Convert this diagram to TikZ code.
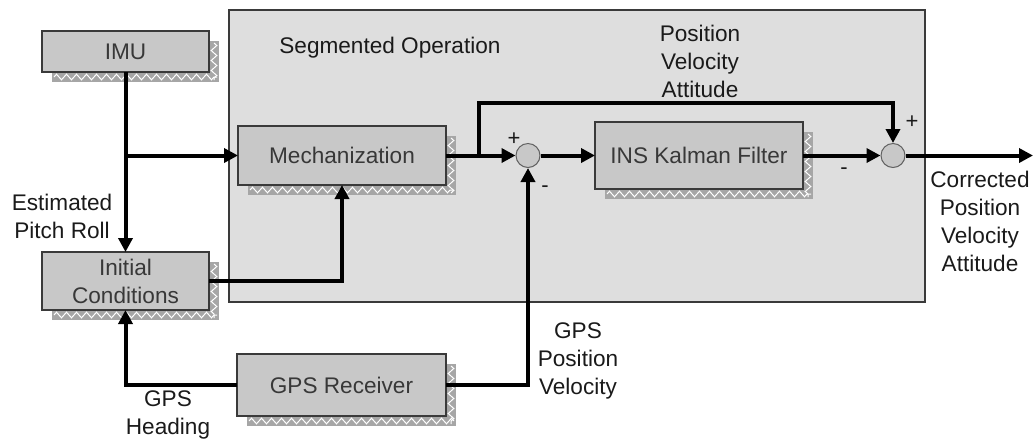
\documentclass[tikz,border=0pt]{standalone}
\usepackage{fontspec}
\setmainfont{Liberation Sans}
\usetikzlibrary{arrows.meta,decorations.pathmorphing}
\definecolor{panelgray}{HTML}{DEDEDE}
\definecolor{boxgray}{HTML}{C8C8C8}
\definecolor{shadegray}{HTML}{A6A6A6}
\definecolor{edgegray}{HTML}{3A3A3A}
\definecolor{boxtext}{HTML}{383838}
\definecolor{labeltext}{HTML}{1A1A1A}
\tikzset{
  blk/.style={draw=edgegray, line width=0.6pt, fill=boxgray, inner sep=0pt, outer sep=0pt,
    align=center, text=boxtext, font=\fontsize{11.3}{14}\selectfont},
  sumnode/.style={circle, draw=edgegray!80, line width=0.5pt, fill=boxgray, minimum size=12pt, inner sep=0pt},
  flow/.style={line width=2pt, -{Triangle[length=7pt,width=7pt]}},
  wire/.style={line width=2pt},
  lbl/.style={align=center, text=labeltext, font=\fontsize{11.3}{14}\selectfont, inner sep=0pt},
  sign/.style={text=labeltext, font=\fontsize{11}{13}\selectfont, inner sep=0pt},
  zig/.style={draw=white, line width=0.5pt, decorate,
    decoration={zigzag, segment length=5pt, amplitude=1.4pt}},
}
% block with a hatched drop shadow: name, x1, y1, x2, y2, text
\newcommand\shadedblock[6]{%
  \fill[shadegray] (#2+10,#3+10) rectangle (#4+10,#5+10);
  \draw[zig] (#2+12,#5+5) -- (#4+8,#5+5);
  \draw[zig] (#4+5,#3+12) -- (#4+5,#5+8);
  \node[blk, minimum width={(#4-#2)*0.5pt}, minimum height={(#5-#3)*0.5pt}]
    (#1) at ({(#2+#4)/2},{(#3+#5)/2}) {#6};
}
\begin{document}
\begin{tikzpicture}[x=0.5pt, y=-0.5pt]
  \useasboundingbox (0,0) rectangle (1034,441);

  % segmented operation panel
  \node[draw=edgegray, line width=0.6pt, fill=panelgray, inner sep=0pt, outer sep=0pt,
        minimum width=348pt, minimum height=146pt] (seg) at (577,156) {};
  \node[lbl, anchor=west] (segtitle) at (279,48) {Segmented Operation};

  % blocks
  \shadedblock{imu}{42}{31}{209}{72}{IMU}
  \shadedblock{mech}{238}{126}{446}{185}{Mechanization}
  \shadedblock{ins}{595}{122}{803}{189}{INS Kalman Filter}
  \shadedblock{init}{42}{252}{209}{310}{Initial\\Conditions}
  \shadedblock{gps}{237}{354}{446}{416}{GPS Receiver}

  % summing junctions
  \node[sumnode] (sumA) at (528,155.5) {};
  \node[sumnode] (sumB) at (893,155.5) {};

  % helper points
  \coordinate (split) at (125.5,155.5);
  \coordinate (tap) at (479,155.5);
  \coordinate (tapup) at (479,103);
  \coordinate (out) at (1033,155.5);

  % connectors
  \draw[flow] (imu.south) -- (init.north);
  \draw[flow] (split) -- (mech.west);
  \draw[flow] (init.east) -| (mech.south);
  \draw[flow] (mech.east) -- (sumA.west);
  \draw[flow] (tap) -- (tapup) -| (sumB.north);
  \draw[flow] (sumA.east) -- (ins.west);
  \draw[flow] (ins.east) -- (sumB.west);
  \draw[flow] (sumB.east) -- (out);
  \draw[flow] (gps.east) -| (sumA.south);
  \draw[flow] (gps.west) -| (init.south);

  % signs
  \node[sign] (pA) at (514,139) {+};
  \node[sign] (mA) at (545,189) {-};
  \node[sign] (pB) at (912,122) {+};
  \node[sign] (mB) at (844,171) {-};

  % signal labels
  \node[lbl] (pva) at (700,61) {Position\\Velocity\\Attitude};
  \node[lbl] (corr) at (980,221) {Corrected\\Position\\Velocity\\Attitude};
  \node[lbl] (est) at (62,216) {Estimated\\Pitch Roll};
  \node[lbl] (head) at (168,415) {GPS\\Heading};
  \node[lbl] (gpspv) at (578,361) {GPS\\Position\\Velocity};
\end{tikzpicture}
\end{document}
